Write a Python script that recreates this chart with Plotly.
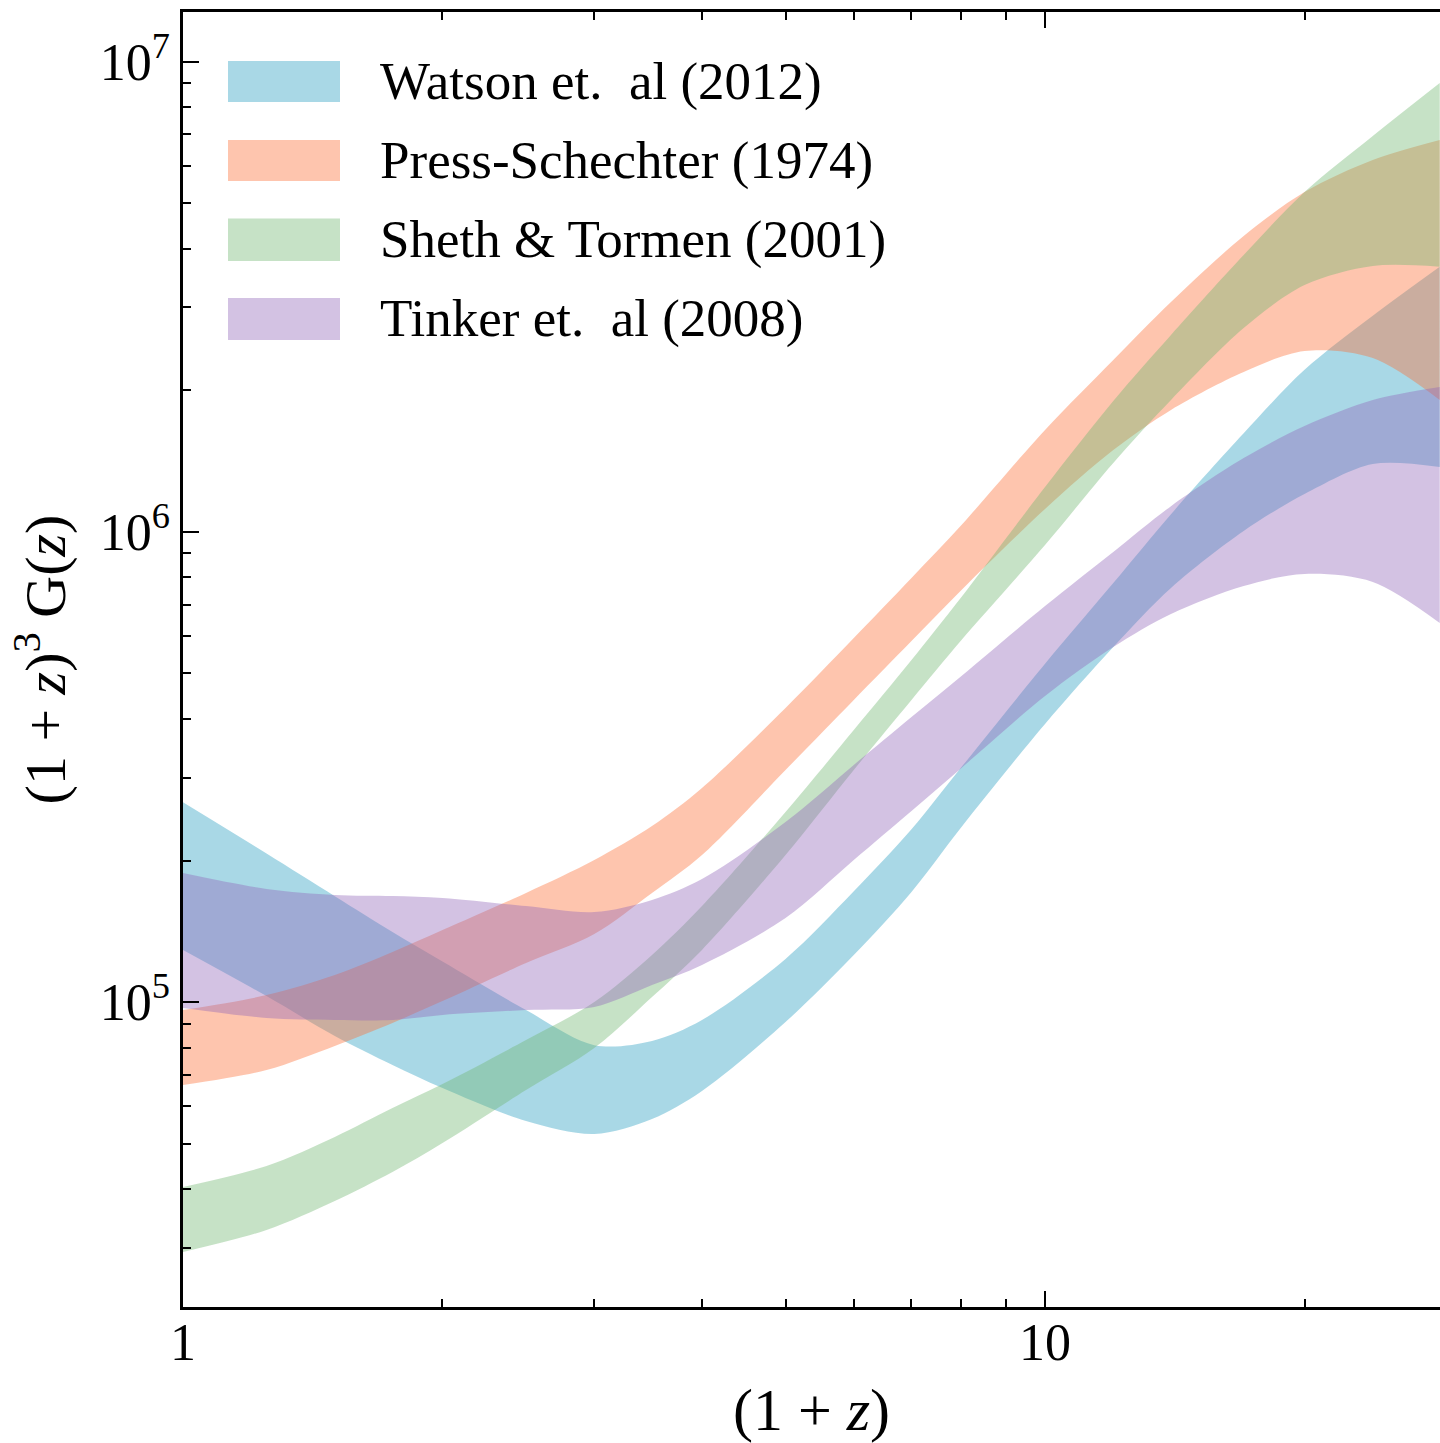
import plotly.graph_objects as go

# (1+z) sample points
one_plus_z = [1, 1.25, 1.5, 1.75, 2, 2.5, 3, 3.5, 4, 5, 6, 7, 8, 10, 12, 14, 17, 20, 24, 28.7]

# Band limits of (1+z)^3 G(z)
watson_hi = [2.66e5, 2.07e5, 1.68e5, 1.41e5, 1.22e5, 9.62e4, 8.10e4, 8.27e4, 9.16e4, 1.235e5,
             1.72e5, 2.33e5, 3.16e5, 5.24e5, 7.78e5, 1.09e6, 1.62e6, 2.21e6, 2.88e6, 3.66e6]
watson_lo = [1.291e5, 1.03e5, 8.47e4, 7.35e4, 6.566e4, 5.587e4, 5.243e4, 5.641e4, 6.471e4, 9.07e4,
             1.259e5, 1.715e5, 2.357e5, 3.903e5, 5.689e5, 7.596e5, 1.004e6, 1.203e6, 1.394e6, 1.373e6]

ps_hi = [9.62e4, 1.035e5, 1.142e5, 1.278e5, 1.423e5, 1.706e5, 2.005e5, 2.368e5, 2.853e5, 4.221e5,
         5.945e5, 7.978e5, 1.034e6, 1.646e6, 2.319e6, 3.08e6, 4.256e6, 5.278e6, 6.175e6, 6.81e6]
ps_lo = [6.664e4, 7.171e4, 8.067e4, 9.028e4, 1.005e5, 1.211e5, 1.396e5, 1.706e5, 2.055e5, 3.116e5,
         4.39e5, 5.859e5, 7.523e5, 1.118e6, 1.492e6, 1.816e6, 2.187e6, 2.423e6, 2.342e6, 1.907e6]

st_hi = [4.044e4, 4.482e4, 5.168e4, 5.953e4, 6.696e4, 8.305e4, 1.0e5, 1.259e5, 1.60e5, 2.537e5,
         3.79e5, 5.339e5, 7.269e5, 1.245e6, 1.897e6, 2.621e6, 3.878e6, 5.278e6, 6.944e6, 9.0e6]
st_lo = [2.942e4, 3.277e4, 3.777e4, 4.352e4, 5.017e4, 6.503e4, 7.987e4, 1.025e5, 1.291e5, 2.055e5,
         3.116e5, 4.39e5, 5.888e5, 9.374e5, 1.401e6, 1.907e6, 2.712e6, 3.347e6, 3.675e6, 3.66e6]

tinker_hi = [1.881e5, 1.74e5, 1.69e5, 1.681e5, 1.665e5, 1.60e5, 1.554e5, 1.649e5, 1.827e5, 2.415e5,
             3.194e5, 4.038e5, 4.936e5, 6.953e5, 9.06e5, 1.134e6, 1.435e6, 1.679e6, 1.907e6, 2.032e6]
tinker_lo = [9.714e4, 9.252e4, 9.163e4, 9.163e4, 9.389e4, 9.62e4, 9.763e4, 1.087e5, 1.199e5, 1.509e5,
             2.005e5, 2.549e5, 3.147e5, 4.476e5, 5.689e5, 6.686e5, 7.671e5, 8.135e5, 7.824e5, 6.4e5]

labels = ["Watson et.\u00a0 al (2012)", "Press-Schechter (1974)",
          "Sheth &amp; Tormen (2001)", "Tinker et.\u00a0 al (2008)"]
colors = ["rgba(40,158,193,0.4)", "rgba(253,110,53,0.4)",
          "rgba(113,183,113,0.4)", "rgba(145,103,185,0.4)"]

x_ticks = [1, 10]
x_ticktext = ["1", "10"]
x_minor = [2, 3, 4, 5, 6, 7, 8, 9, 20]
y_ticks = [1e5, 1e6, 1e7]
y_ticktext = ["10<sup>5</sup>", "10<sup>6</sup>", "10<sup>7</sup>"]
y_minor = [3e4, 4e4, 5e4, 6e4, 7e4, 8e4, 9e4,
           2e5, 3e5, 4e5, 5e5, 6e5, 7e5, 8e5, 9e5,
           2e6, 3e6, 4e6, 5e6, 6e6, 7e6, 8e6, 9e6]

FONT = "Liberation Serif, DejaVu Serif, serif"

bands = [(watson_lo, watson_hi), (ps_lo, ps_hi), (st_lo, st_hi), (tinker_lo, tinker_hi)]

fig = go.Figure()
for (lo, hi), name, col in zip(bands, labels, colors):
    fig.add_trace(go.Scatter(x=one_plus_z, y=lo, mode="lines",
                             line=dict(width=0, shape="spline", smoothing=0.9),
                             showlegend=False, hoverinfo="skip"))
    fig.add_trace(go.Scatter(x=one_plus_z, y=hi, mode="lines",
                             line=dict(width=0, shape="spline", smoothing=0.9),
                             fill="tonexty", fillcolor=col, name=name,
                             showlegend=False))

# legend drawn as swatches + text
shapes = []
annotations = []
sw_x0, sw_x1, txt_x = 0.0358, 0.1249, 0.1555
rows = [(0.9305, 0.9622), (0.8695, 0.9012), (0.8077, 0.8405), (0.7467, 0.7792)]
for (y0, y1), name, col in zip(rows, labels, colors):
    shapes.append(dict(type="rect", xref="paper", yref="paper", x0=sw_x0, x1=sw_x1,
                       y0=y0, y1=y1, fillcolor=col, line=dict(width=0)))
    annotations.append(dict(xref="paper", yref="paper", x=txt_x, y=(y0 + y1) / 2,
                            text=name, showarrow=False, xanchor="left", yanchor="middle",
                            font=dict(family=FONT, size=53, color="black")))

fig.update_layout(
    width=1440, height=1443,
    margin=dict(l=183, r=0, t=12, b=136),
    paper_bgcolor="white", plot_bgcolor="white",
    font=dict(family=FONT, size=52, color="black"),
    shapes=shapes, annotations=annotations,
    showlegend=False,
)
fig.update_xaxes(
    type="log", range=[0, 1.4582],
    tickmode="array", tickvals=x_ticks, ticktext=x_ticktext,
    ticks="inside", ticklen=16, tickwidth=2, tickcolor="black",
    ticklabelstandoff=-12,
    minor=dict(tickmode="array", tickvals=x_minor, ticks="inside", ticklen=8,
               tickwidth=1.6, tickcolor="black", showgrid=False),
    showline=True, linewidth=2.5, linecolor="black", mirror="allticks",
    showgrid=False, zeroline=False,
    tickfont=dict(family=FONT, size=52),
    title=dict(text="(1 + <i>z</i>)", font=dict(family=FONT, size=60), standoff=22),
)
fig.update_yaxes(
    type="log", range=[4.3517, 7.1053],
    tickmode="array", tickvals=y_ticks, ticktext=y_ticktext,
    ticks="inside", ticklen=16, tickwidth=2, tickcolor="black",
    minor=dict(tickmode="array", tickvals=y_minor, ticks="inside", ticklen=8,
               tickwidth=1.6, tickcolor="black", showgrid=False),
    showline=True, linewidth=2.5, linecolor="black", mirror=False,
    showgrid=False, zeroline=False,
    tickfont=dict(family=FONT, size=52),
    title=dict(text="(1 + <i>z</i>)<sup>3</sup> G(<i>z</i>)", font=dict(family=FONT, size=58),
               standoff=16),
)

fig.write_html("out.html", config={"displayModeBar": False},
               post_script="document.body.style.margin='0';document.body.style.overflow='hidden';")
